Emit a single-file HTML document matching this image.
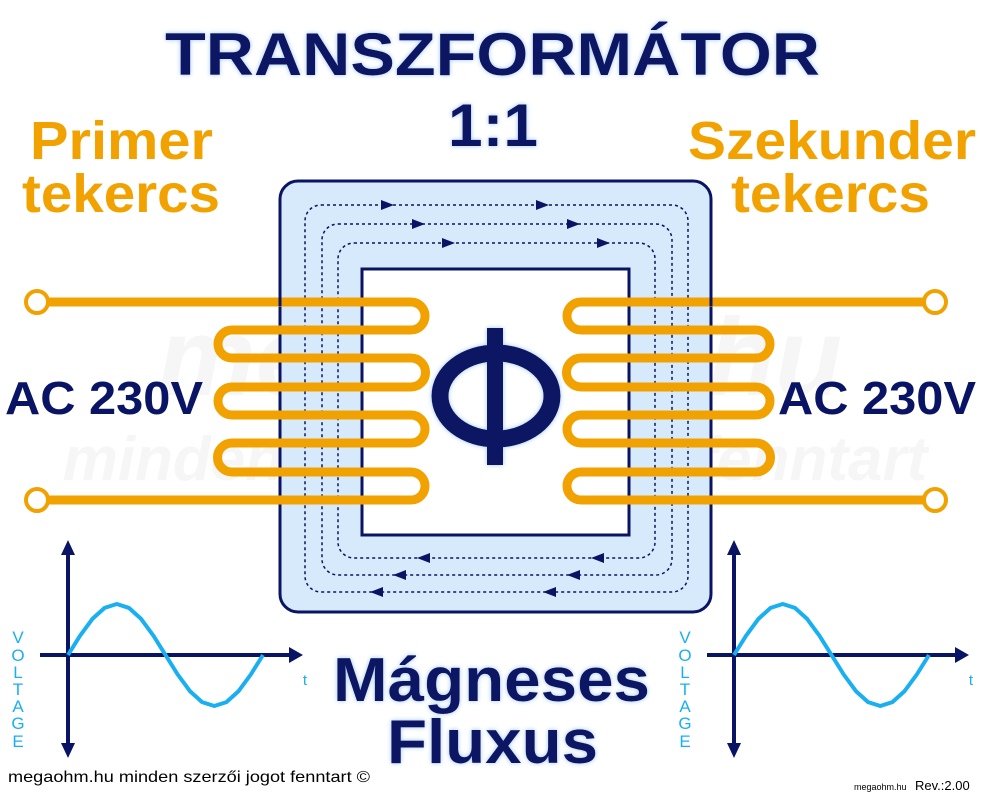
<!DOCTYPE html>
<html><head><meta charset="utf-8"><style>
html,body{margin:0;padding:0;background:#fff;}
svg{display:block;}
text{font-family:"Liberation Sans",sans-serif;}
</style></head><body>
<svg width="986" height="800" viewBox="0 0 986 800" xmlns="http://www.w3.org/2000/svg">
<defs>
<filter id="glow" x="-20%" y="-20%" width="140%" height="140%"><feGaussianBlur stdDeviation="2.5" result="b"/><feFlood flood-color="#9fc7ff"/><feComposite in2="b" operator="in"/><feMerge><feMergeNode/><feMergeNode in="SourceGraphic"/></feMerge></filter>
</defs>
<!-- watermark -->
<text x="500" y="395" font-size="110" font-weight="bold" font-style="italic" fill="#f6f6f6" text-anchor="middle">megaohm.hu</text>
<text x="495" y="480" font-size="62" font-weight="bold" font-style="italic" fill="#f6f6f6" text-anchor="middle">minden szerzői jogot fenntart</text>

<!-- titles -->
<g filter="url(#glow)" fill="#0a1464" font-weight="bold">
<text x="165" y="75" font-size="60" textLength="655" lengthAdjust="spacingAndGlyphs">TRANSZFORMÁTOR</text>
<text x="448" y="146" font-size="60" textLength="90" lengthAdjust="spacingAndGlyphs">1:1</text>
<text x="333" y="701" font-size="62" textLength="317" lengthAdjust="spacingAndGlyphs">Mágneses</text>
<text x="387" y="763" font-size="62" textLength="211" lengthAdjust="spacingAndGlyphs">Fluxus</text>
</g>
<g fill="#f2a200" font-weight="bold" font-size="54">
<text x="30" y="159" textLength="183" lengthAdjust="spacingAndGlyphs">Primer</text>
<text x="22" y="212" textLength="198" lengthAdjust="spacingAndGlyphs">tekercs</text>
<text x="688" y="159" textLength="288" lengthAdjust="spacingAndGlyphs">Szekunder</text>
<text x="731" y="212" textLength="199" lengthAdjust="spacingAndGlyphs">tekercs</text>
</g>
<g fill="#0a1464" font-weight="bold" font-size="46">
<text x="5" y="414" textLength="198" lengthAdjust="spacingAndGlyphs">AC 230V</text>
<text x="778" y="414" textLength="198" lengthAdjust="spacingAndGlyphs">AC 230V</text>
</g>

<!-- core -->
<rect x="280" y="181" width="431" height="431" rx="18" fill="#d6eafc" stroke="#0a1464" stroke-width="3"/>
<rect x="362" y="269" width="267" height="266" fill="#fff" stroke="#0a1464" stroke-width="3"/>
<g fill="none" stroke="#0a1464" stroke-width="1.5" stroke-dasharray="3,3">
<rect x="305" y="205" width="383" height="387" rx="16"/>
<rect x="322" y="224" width="350" height="351" rx="16"/>
<rect x="338" y="243" width="317" height="315" rx="16"/>
</g>
<g fill="#0a1464">
<path d="M381,200 l13,5 l-13,5z"/><path d="M536,200 l13,5 l-13,5z"/>
<path d="M412,219 l13,5 l-13,5z"/><path d="M567,219 l13,5 l-13,5z"/>
<path d="M442,238 l13,5 l-13,5z"/><path d="M597,238 l13,5 l-13,5z"/>
<path d="M430,553 l-13,5 l13,5z"/><path d="M604,553 l-13,5 l13,5z"/>
<path d="M406,570 l-13,5 l13,5z"/><path d="M580,570 l-13,5 l13,5z"/>
<path d="M383,587 l-13,5 l13,5z"/><path d="M556,587 l-13,5 l13,5z"/>
</g>

<!-- coils -->
<g fill="none" stroke="#f2a200" stroke-width="9">
<path d="M48,302 H411 A14,14 0 0 1 411,330 H232 A14,14 0 0 0 232,358 H411 A14.5,14.5 0 0 1 411,387 H232 A14,14 0 0 0 232,415 H411 A14,14 0 0 1 411,443 H232 A14.5,14.5 0 0 0 232,472 H411 A14,14 0 0 1 411,500 H48"/>
<path d="M924,302 H581 A14,14 0 0 0 581,330 H756 A14,14 0 0 1 756,358 H581 A14.5,14.5 0 0 0 581,387 H756 A14,14 0 0 1 756,415 H581 A14,14 0 0 0 581,443 H756 A14.5,14.5 0 0 1 756,472 H581 A14,14 0 0 0 581,500 H924"/>
</g>
<g fill="#fff" stroke="#f2a200" stroke-width="4">
<circle cx="37" cy="302" r="11"/><circle cx="37" cy="500" r="11"/>
<circle cx="935" cy="302" r="11"/><circle cx="935" cy="500" r="11"/>
</g>
<line x1="280" y1="296" x2="280" y2="306" stroke="#0a1464" stroke-width="3"/>
<line x1="711" y1="296" x2="711" y2="306" stroke="#0a1464" stroke-width="3"/>

<!-- Phi -->
<g filter="url(#glow)">
<ellipse cx="496" cy="396" rx="56" ry="43" fill="none" stroke="#0a1464" stroke-width="17"/>
<rect x="487" y="328" width="16" height="137" fill="#0a1464"/>
</g>

<!-- graphs -->
<g stroke="#0a1464" stroke-width="4" fill="none">
<line x1="68" y1="550" x2="68" y2="748"/>
<line x1="40" y1="655" x2="292" y2="655"/>
<line x1="734" y1="550" x2="734" y2="748"/>
<line x1="707" y1="655" x2="958" y2="655"/>
</g>
<g fill="#0a1464">
<path d="M68,540 l-7,15 h14z"/><path d="M68,758 l-7,-15 h14z"/><path d="M303,655 l-14,-8 v16z"/>
<path d="M734,540 l-7,15 h14z"/><path d="M734,758 l-7,-15 h14z"/><path d="M969,655 l-14,-8 v16z"/>
</g>
<g fill="none" stroke="#1aaff0" stroke-width="4" stroke-linejoin="round">
<polyline points="68,655 80.2,635.5 92.4,618.9 104.6,607.9 116.8,604 128.9,607.9 141.1,618.9 153.3,635.5 165.5,655 177.7,674.5 189.9,691.1 202.1,702.1 214.3,706 226.4,702.1 238.6,691.1 250.8,674.5 263,655"/>
<polyline transform="translate(666,0)" points="68,655 80.2,635.5 92.4,618.9 104.6,607.9 116.8,604 128.9,607.9 141.1,618.9 153.3,635.5 165.5,655 177.7,674.5 189.9,691.1 202.1,702.1 214.3,706 226.4,702.1 238.6,691.1 250.8,674.5 263,655"/>
</g>
<g fill="#1aaff0" font-size="17" text-anchor="middle">
<text x="18" y="643">V</text><text x="18" y="661">O</text><text x="18" y="678">L</text><text x="18" y="695">T</text><text x="18" y="712">A</text><text x="18" y="729">G</text><text x="18" y="747">E</text>
<text x="685" y="643">V</text><text x="685" y="661">O</text><text x="685" y="678">L</text><text x="685" y="695">T</text><text x="685" y="712">A</text><text x="685" y="729">G</text><text x="685" y="747">E</text>
<text x="305" y="685" font-size="15">t</text>
<text x="971" y="685" font-size="15">t</text>
</g>

<text x="8" y="782" font-size="16" fill="#000" textLength="362" lengthAdjust="spacingAndGlyphs">megaohm.hu minden szerzői jogot fenntart ©</text>
<text x="854" y="790" font-size="9" fill="#000">megaohm.hu</text>
<text x="915" y="790" font-size="13" fill="#000">Rev.:2.00</text>
</svg>
</body></html>
